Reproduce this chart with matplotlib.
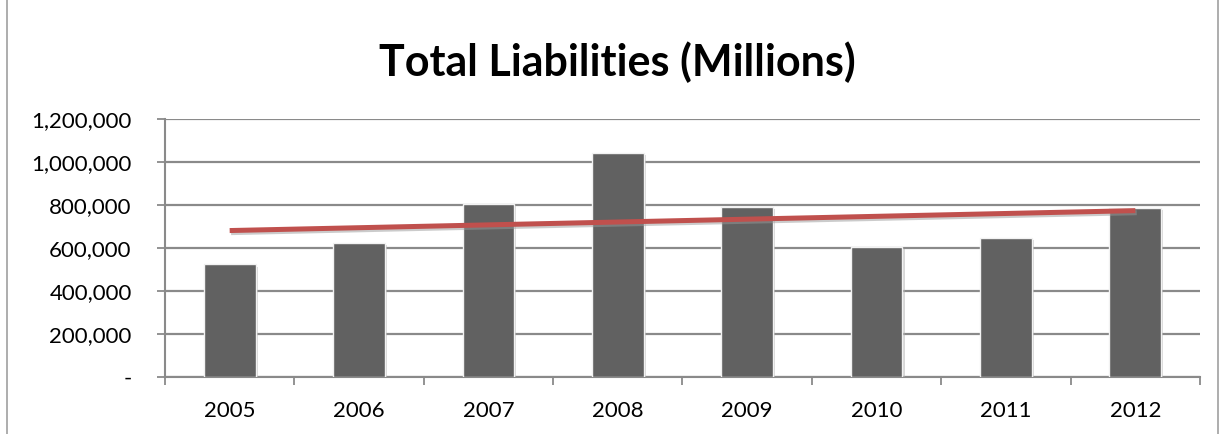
import matplotlib
matplotlib.use("Agg")
import matplotlib.pyplot as plt
import matplotlib.patheffects as pe
from matplotlib.ticker import FuncFormatter
from matplotlib.patches import Rectangle
import numpy as np

years = ["2005", "2006", "2007", "2008", "2009", "2010", "2011", "2012"]
liabilities = [524000, 623000, 805000, 1045000, 790000, 605000, 647000, 788000]
title = "Total Liabilities (Millions)"

plt.rcParams['font.family'] = ['Lato', 'DejaVu Sans']

fig = plt.figure(figsize=(12.23, 4.34), dpi=100)
fig.patches.append(Rectangle((0.006, -0.01), 0.99, 1.02, transform=fig.transFigure,
                             fill=False, edgecolor='#a0a0a0', linewidth=1.2))
ax = fig.add_axes([0.1349, 0.1313, 0.8463, 0.5938])

x = np.arange(len(years))
ax.bar(x, liabilities, width=0.4, color='#616161', edgecolor='#f2f2f2', linewidth=1.0,
       zorder=3, path_effects=[pe.SimplePatchShadow(offset=(1.5, -1.5), shadow_rgbFace='#b0b0b0', alpha=0.5), pe.Normal()])

coef = np.polyfit(x, liabilities, 1)
trend = np.polyval(coef, x)
ax.plot([x[0], x[-1]], [trend[0], trend[-1]], color='#C0504D', linewidth=3.6, zorder=4,
        solid_capstyle='butt',
        path_effects=[pe.SimpleLineShadow(offset=(1, -1.5), shadow_color='#999999', alpha=0.5), pe.Normal()])

ax.set_xlim(-0.5, len(years) - 0.5)
ax.set_ylim(0, 1200000)
ax.set_yticks(np.arange(0, 1200001, 200000))
ax.yaxis.set_major_formatter(FuncFormatter(lambda v, p: '-' if v == 0 else f'{int(v):,}'))
ax.grid(axis='y', color='#8a8a8a', linewidth=1.6, zorder=0)
ax.set_axisbelow(True)

ax.set_xticks(x)
ax.set_xticklabels(years)
ax.set_xticks(np.arange(-0.5, len(years), 1), minor=True)
ax.tick_params(axis='x', which='major', length=0, pad=17, labelsize=16)
ax.tick_params(axis='x', which='minor', length=6, width=1.3, color='#8a8a8a', direction='out')
ax.tick_params(axis='y', length=6, width=1.3, color='#8a8a8a', pad=18, labelsize=16)

for s in ['top', 'right']:
    ax.spines[s].set_visible(False)
for s in ['left', 'bottom']:
    ax.spines[s].set_color('#8a8a8a')
    ax.spines[s].set_linewidth(1.5)

fig.text(0.505, 0.857, title, ha='center', va='center', fontsize=31, fontweight='bold')

fig.savefig('out.png', dpi=100)
